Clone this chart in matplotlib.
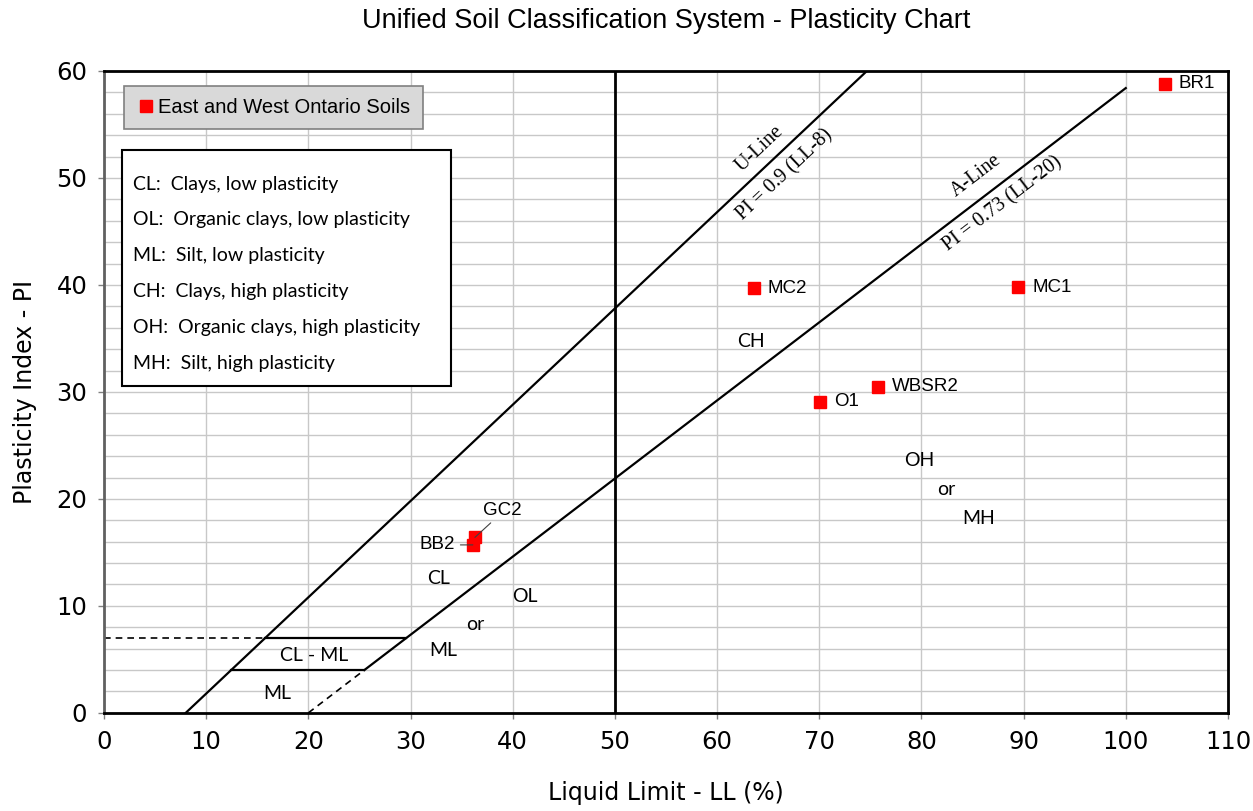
import numpy as np
import matplotlib.pyplot as plt
from matplotlib import font_manager
from matplotlib.patches import Rectangle
from matplotlib.lines import Line2D

# soil samples
names = ["BR1", "MC1", "MC2", "WBSR2", "O1", "GC2", "BB2"]
ll = [103.8, 89.5, 63.6, 75.8, 70.1, 36.3, 36.1]
pi = [58.8, 39.8, 39.7, 30.5, 29.1, 16.4, 15.7]

# chart limits / boundaries
a_line_end = 100
cl_ml_low = 4
cl_ml_high = 7
ll_split = 50

xticks = list(range(0, 111, 10))
yticks = list(range(0, 61, 10))

key_lines = ["CL:  Clays, low plasticity",
             "OL:  Organic clays, low plasticity",
             "ML:  Silt, low plasticity",
             "CH:  Clays, high plasticity",
             "OH:  Organic clays, high plasticity",
             "MH:  Silt, high plasticity"]

installed = {f.name for f in font_manager.fontManager.ttflist}
narrow = [f for f in ["Liberation Sans Narrow", "DejaVu Sans Condensed"] if f in installed] + ["DejaVu Sans"]
calib = ["Lato", "DejaVu Sans"]

fig = plt.figure(figsize=(12.53, 8.11), dpi=100)
ax = fig.add_axes([0.083, 0.121, 0.897, 0.7915])
ax.set_xlim(0, 110)
ax.set_ylim(0, 60)

# grid
ax.set_xticks(xticks)
ax.set_yticks(yticks)
ax.set_yticks(np.arange(0, 61, 2), minor=True)
ax.grid(True, which="both", color="#c8c8c8", lw=1)
ax.tick_params(which="minor", length=0)
ax.tick_params(which="major", length=4, width=1, color="#808080", pad=8)
ax.set_axisbelow(True)
for s in ax.spines.values():
    s.set_linewidth(2)
    s.set_color("black")
ax.spines["left"].set_color("#606060")

for lab in ax.get_xticklabels() + ax.get_yticklabels():
    lab.set_family(narrow)
    lab.set_fontsize(17.5)

ax.set_xlabel("Liquid Limit - LL (%)", family=narrow, fontsize=17, labelpad=20)
ax.set_ylabel("Plasticity Index - PI", family=narrow, fontsize=17, labelpad=14)
ax.set_title("Unified Soil Classification System - Plasticity Chart",
             family="Liberation Sans", fontsize=19.5, pad=31)

# U-line PI = 0.9 (LL-8)
u0 = 8
u1 = 60 / 0.9 + 8
ax.plot([u0, u1], [0, 60], color="black", lw=1.6)
# A-line PI = 0.73 (LL-20)
a_start = cl_ml_low / 0.73 + 20
ax.plot([a_start, a_line_end], [cl_ml_low, 0.73 * (a_line_end - 20)], color="black", lw=1.6)
ax.plot([20, a_start], [0, cl_ml_low], color="black", lw=1.2, ls=(0, (4, 3)))
# CL-ML band
ax.plot([cl_ml_high / 0.9 + 8, cl_ml_high / 0.73 + 20], [cl_ml_high, cl_ml_high], color="black", lw=1.6)
ax.plot([cl_ml_low / 0.9 + 8, a_start], [cl_ml_low, cl_ml_low], color="black", lw=1.6)
ax.plot([0, cl_ml_high / 0.9 + 8], [cl_ml_high, cl_ml_high], color="black", lw=1.2, ls=(0, (4, 3)))
# LL = 50
ax.axvline(ll_split, color="black", lw=2)

# line annotations
fig.canvas.draw()
def ang(slope):
    p = ax.transData.transform([[0, 0], [1, slope]])
    return np.degrees(np.arctan2(p[1, 1] - p[0, 1], p[1, 0] - p[0, 0]))
ua = ang(0.9)
aa = ang(0.73)
serif = "Liberation Serif"
ax.text(64.2, 52.7, "U-Line", rotation=ua, family=serif, fontsize=14.5, ha="center", va="center", rotation_mode="anchor")
ax.text(66.6, 50.3, "PI = 0.9 (LL-8)", rotation=ua, family=serif, fontsize=14.5, ha="center", va="center", rotation_mode="anchor")
ax.text(85.4, 50.2, "A-Line", rotation=aa, family=serif, fontsize=14.5, ha="center", va="center", rotation_mode="anchor")
ax.text(88.0, 47.6, "PI = 0.73 (LL-20)", rotation=aa, family=serif, fontsize=14.5, ha="center", va="center", rotation_mode="anchor")

# zone labels
zones = [("CH", 63.3, 34.7), ("CL", 32.7, 12.6), ("OL", 41.2, 10.9), ("or", 36.3, 8.3),
         ("ML", 33.2, 5.8), ("CL - ML", 20.6, 5.4), ("ML", 17.0, 1.8),
         ("OH", 79.8, 23.6), ("or", 82.4, 20.9), ("MH", 85.6, 18.2)]
for t, x, y in zones:
    ax.text(x, y, t, family=calib, fontsize=14, ha="center", va="center")

# samples
lab_font = "Liberation Sans"
ax.plot(ll, pi, "s", color="#ff0000", ms=9, ls="none", zorder=5)
for n, x, y in zip(names, ll, pi):
    if n == "GC2":
        ax.annotate(n, (x, y), xytext=(39.0, 18.9), family=lab_font, fontsize=13.5,
                    ha="center", va="center", zorder=6,
                    arrowprops=dict(arrowstyle="-", color="#404040", lw=0.8,
                                    relpos=(0.3, 0.0), shrinkA=1, shrinkB=0))
    elif n == "BB2":
        ax.annotate(n, (x, y), xytext=(32.6, 15.7), family=lab_font, fontsize=13.5,
                    ha="center", va="center", zorder=6,
                    arrowprops=dict(arrowstyle="-", color="#404040", lw=0.8,
                                    relpos=(1.0, 0.5), shrinkA=2, shrinkB=0))
    else:
        ax.annotate(n, (x, y), xytext=(10, 0), textcoords="offset points",
                    family=lab_font, fontsize=13.5, va="center")

# legend
h = Line2D([], [], marker="s", color="#ff0000", ls="none", ms=8)
leg = ax.legend([h], ["East and West Ontario Soils"], loc="upper left",
                bbox_to_anchor=(0.018, 0.977), borderaxespad=0, fancybox=False,
                framealpha=1, facecolor="#d9d9d9", edgecolor="#808080",
                prop={"family": "Liberation Sans", "size": 14.5}, handletextpad=0.1,
                handlelength=1.0, borderpad=0.6)
leg.get_frame().set_linewidth(1.2)

# key box
ax.add_patch(Rectangle((0.016, 0.5093), 0.2927, 0.3677, transform=ax.transAxes,
                       facecolor="white", edgecolor="black", lw=1.5, zorder=6))
ys = [0.8225, 0.768, 0.712, 0.656, 0.600, 0.544]
for t, y in zip(key_lines, ys):
    ax.text(0.0258, y, t, transform=ax.transAxes, family=calib, fontsize=14,
            va="center", zorder=7)

fig.savefig("out.png", dpi=100)
